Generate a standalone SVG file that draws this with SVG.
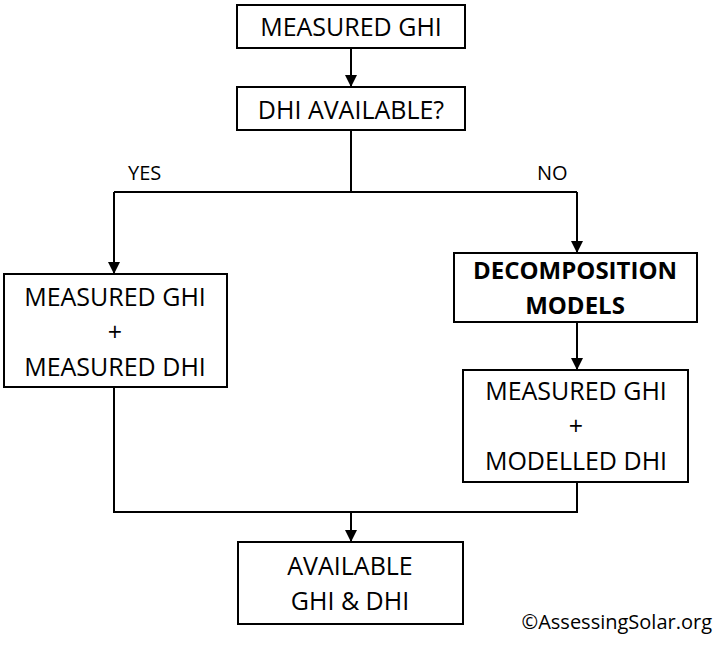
<svg xmlns="http://www.w3.org/2000/svg" width="727" height="647" viewBox="0 0 727 647">
<style>
.box{fill:#fff;stroke:#000;stroke-width:2}
.t{font-family:"Open Sans","Noto Sans",sans-serif;font-size:25px;fill:#000;text-anchor:middle}
.b{font-weight:bold;font-size:24px}
.lbl{font-family:"Open Sans","Noto Sans",sans-serif;font-size:20px;fill:#000}
.c{fill:none;stroke:#000;stroke-width:2}
</style>
<defs>
<marker id="arr" markerUnits="userSpaceOnUse" markerWidth="12" markerHeight="14" refX="12" refY="6" orient="auto">
<path d="M0,0 L12,6 L0,12 Z" fill="#000"/>
</marker>
</defs>
<rect width="727" height="647" fill="#fff"/>
<g id="connectors">
<line class="c" x1="351" y1="48" x2="351" y2="87" marker-end="url(#arr)"/>
<polyline class="c" points="351,130 351,192"/>
<line class="c" x1="114" y1="192" x2="577" y2="192"/>
<line class="c" x1="114" y1="192" x2="114" y2="274" marker-end="url(#arr)"/>
<line class="c" x1="577" y1="192" x2="577" y2="253" marker-end="url(#arr)"/>
<line class="c" x1="577" y1="322" x2="577" y2="370" marker-end="url(#arr)"/>
<polyline class="c" points="114,387 114,512 577,512 577,482"/>
<line class="c" x1="351" y1="512" x2="351" y2="542" marker-end="url(#arr)"/>
<text class="lbl" x="128" y="180">YES</text>
<text class="lbl" x="537" y="180">NO</text>
</g>
<g id="measured-ghi">
<rect class="box" x="237" y="5" width="228" height="43"/>
<text class="t" x="351" y="36">MEASURED GHI</text>
</g>
<g id="dhi-available">
<rect class="box" x="237" y="87" width="228" height="43"/>
<text class="t" x="351" y="119">DHI AVAILABLE?</text>
</g>
<g id="measured-both">
<rect class="box" x="4" y="274" width="223" height="113"/>
<text class="t" x="115" y="306">MEASURED GHI</text>
<text class="t" x="115" y="341">+</text>
<text class="t" x="115" y="376">MEASURED DHI</text>
</g>
<g id="decomposition">
<rect class="box" x="454" y="253" width="243" height="69"/>
<text class="t b" x="575" y="279">DECOMPOSITION</text>
<text class="t b" x="575" y="314">MODELS</text>
</g>
<g id="modelled">
<rect class="box" x="463" y="370" width="225" height="112"/>
<text class="t" x="576" y="400">MEASURED GHI</text>
<text class="t" x="576" y="435">+</text>
<text class="t" x="576" y="470">MODELLED DHI</text>
</g>
<g id="available">
<rect class="box" x="238" y="542" width="225" height="82"/>
<text class="t" x="350" y="575">AVAILABLE</text>
<text class="t" x="350" y="610">GHI &amp; DHI</text>
</g>
<text class="lbl" x="712" y="629" text-anchor="end" font-size="18">©AssessingSolar.org</text>
</svg>
